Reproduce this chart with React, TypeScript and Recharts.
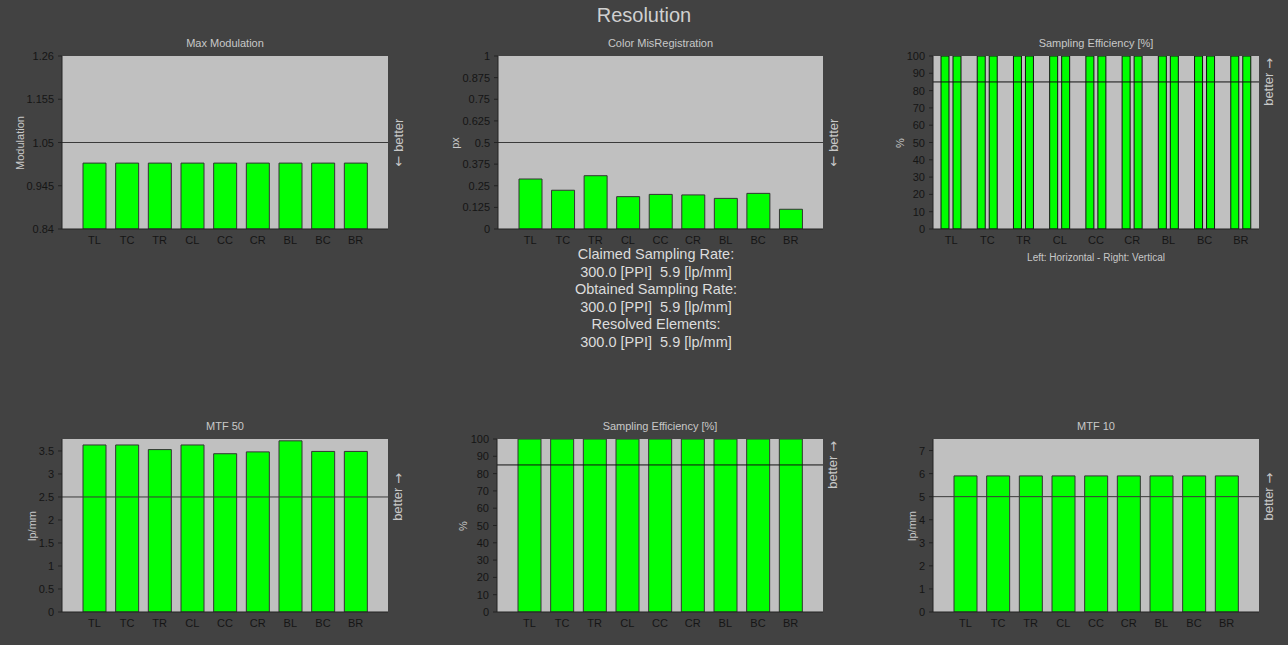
import React from 'react'
import { BarChart, Bar, XAxis, YAxis, CartesianGrid, ReferenceLine } from 'recharts'

const categories = ['TL', 'TC', 'TR', 'CL', 'CC', 'CR', 'BL', 'BC', 'BR']

const maxModulation = [1.0, 1.0, 1.0, 1.0, 1.0, 1.0, 1.0, 1.0, 1.0]
const colorMisreg = [0.289, 0.224, 0.308, 0.187, 0.2, 0.197, 0.177, 0.206, 0.114]
const samplingHorizontal = [100, 100, 100, 100, 100, 100, 100, 100, 100]
const samplingVertical = [100, 100, 100, 100, 100, 100, 100, 100, 100]
const samplingEff = [100, 100, 100, 100, 100, 100, 100, 100, 100]
const mtf50 = [3.63, 3.63, 3.53, 3.63, 3.44, 3.48, 3.72, 3.49, 3.49]
const mtf10 = [5.9, 5.9, 5.9, 5.9, 5.9, 5.9, 5.9, 5.9, 5.9]

const modTicks = [0.84, 0.945, 1.05, 1.155, 1.26]
const misregTicks = [0, 0.125, 0.25, 0.375, 0.5, 0.625, 0.75, 0.875, 1]
const pctTicks = [0, 10, 20, 30, 40, 50, 60, 70, 80, 90, 100]
const mtf50Ticks = [0, 0.5, 1, 1.5, 2, 2.5, 3, 3.5]
const mtf10Ticks = [0, 1, 2, 3, 4, 5, 6, 7]

const infoLines = [
  'Claimed Sampling Rate:',
  '300.0 [PPI]  5.9 [lp/mm]',
  'Obtained Sampling Rate:',
  '300.0 [PPI]  5.9 [lp/mm]',
  'Resolved Elements:',
  '300.0 [PPI]  5.9 [lp/mm]',
]

const FONT = '"Liberation Sans", Arial, sans-serif'
const BG = '#424242'
const LIGHT = '#c8c8c8'
const TICK = '#151515'

function rows(series: Record<string, number[]>) {
  return categories.map((name, i) => {
    const r: Record<string, string | number> = { name }
    for (const k of Object.keys(series)) r[k] = series[k][i]
    return r
  })
}

const yTick = (props: any) => (
  <text
    x={props.x - 2}
    y={props.y}
    textAnchor="end"
    dominantBaseline="central"
    fill={TICK}
    fontSize={11}
    fontFamily={FONT}
  >
    {props.payload.value}
  </text>
)

const xTick = (props: any) => (
  <text
    x={props.x}
    y={props.y + 5}
    textAnchor="middle"
    dominantBaseline="central"
    fill={TICK}
    fontSize={11}
    fontFamily={FONT}
  >
    {props.payload.value}
  </text>
)

interface PanelProps {
  title: string
  yLabel: string
  x: number
  y: number
  w: number
  h: number
  data: Record<string, string | number>[]
  keys: string[]
  domain: [number, number]
  ticks: number[]
  refValue: number
  better: 'up' | 'down'
  labelX: number
  barSize: number
  pad: number
  barGap?: number
  refColor?: string
  barStroke?: string
}

function Panel(p: PanelProps) {
  const yw = 60
  const mt = 20
  const xh = 25
  const refColor = p.refColor || '#3a3a3a'
  const arrow = (ch: string) => (
    <tspan fontFamily='"DejaVu Sans", sans-serif' fontSize={13}>
      {ch}
    </tspan>
  )
  const betterLabel = (props: any) => {
    const vb = props.viewBox
    const tx = vb.x + vb.width + 10
    const ty = vb.y
    return (
      <text
        x={tx}
        y={ty}
        transform={`rotate(-90 ${tx} ${ty})`}
        textAnchor="middle"
        dominantBaseline="central"
        fill={LIGHT}
        fontSize={13}
        fontFamily={FONT}
      >
        {p.better === 'up' ? (
          <>
            better {arrow('\u2192')}
          </>
        ) : (
          <>
            {arrow('\u2190')} better
          </>
        )}
      </text>
    )
  }
  return (
    <>
      <div
        style={{
          position: 'absolute',
          left: p.x,
          top: p.y - 20,
          width: p.w,
          textAlign: 'center',
          color: LIGHT,
          fontSize: 11,
          fontFamily: FONT,
          lineHeight: '14px',
        }}
      >
        {p.title}
      </div>
      <div
        style={{
          position: 'absolute',
          left: p.labelX - 50,
          top: p.y + p.h / 2 - 7,
          width: 100,
          textAlign: 'center',
          color: LIGHT,
          fontSize: 11,
          fontFamily: FONT,
          lineHeight: '14px',
          transform: 'rotate(-90deg)',
        }}
      >
        {p.yLabel}
      </div>
      <div style={{ position: 'absolute', left: p.x - yw, top: p.y - mt }}>
        <BarChart
          width={p.w + yw + 40}
          height={p.h + mt + xh}
          data={p.data}
          margin={{ top: mt, right: 40, bottom: 0, left: 0 }}
          barGap={p.barGap ?? 4}
          barCategoryGap={0}
        >
          <CartesianGrid horizontal={false} vertical={false} fill="#c0c0c0" />
          <XAxis
            dataKey="name"
            height={xh}
            padding={{ left: p.pad, right: p.pad }}
            tickLine={false}
            tickSize={4}
            axisLine={{ stroke: '#222' }}
            tick={xTick}
            interval={0}
          />
          <XAxis
            xAxisId="top"
            dataKey="name"
            orientation="top"
            height={0}
            tick={false}
            tickLine={false}
            axisLine={{ stroke: '#9a9a9a' }}
          />
          <YAxis
            width={yw}
            domain={p.domain}
            ticks={p.ticks}
            type="number"
            interval={0}
            allowDataOverflow
            tickSize={4}
            tickLine={{ stroke: '#222' }}
            axisLine={{ stroke: '#222' }}
            tick={yTick}
          />
          <YAxis
            yAxisId="right"
            orientation="right"
            width={0}
            domain={p.domain}
            tick={false}
            tickLine={false}
            axisLine={{ stroke: '#9a9a9a' }}
          />
          {p.keys.map((k) => (
            <Bar
              key={k}
              dataKey={k}
              fill="#00ff00"
              stroke={p.barStroke || '#333'}
              strokeWidth={1}
              barSize={p.barSize}
              isAnimationActive={false}
            />
          ))}
          <ReferenceLine y={p.refValue} stroke={refColor} strokeWidth={1} label={betterLabel} />
        </BarChart>
      </div>
    </>
  )
}

export default function App() {
  return (
    <div
      style={{
        position: 'relative',
        width: 1288,
        height: 645,
        background: BG,
        overflow: 'hidden',
        fontFamily: FONT,
      }}
    >
      <style>{'body{margin:0}'}</style>
      <div
        style={{
          position: 'absolute',
          left: 0,
          top: 3,
          width: 1288,
          textAlign: 'center',
          color: '#d0d0d0',
          fontSize: 20,
          lineHeight: '24px',
        }}
      >
        Resolution
      </div>

      <Panel
        title="Max Modulation"
        yLabel="Modulation"
        x={62}
        y={56}
        w={326}
        h={173}
        data={rows({ v: maxModulation })}
        keys={['v']}
        domain={[0.84, 1.26]}
        ticks={modTicks}
        refValue={1.05}
        better="down"
        labelX={20}
        barSize={23}
        pad={16}
      />
      <Panel
        title="Color MisRegistration"
        yLabel="px"
        x={498}
        y={56}
        w={325}
        h={173}
        data={rows({ v: colorMisreg })}
        keys={['v']}
        domain={[0, 1]}
        ticks={misregTicks}
        refValue={0.5}
        better="down"
        labelX={455}
        barSize={23}
        pad={16}
      />
      <Panel
        title="Sampling Efficiency [%]"
        yLabel="%"
        x={933}
        y={56}
        w={326}
        h={173}
        data={rows({ h: samplingHorizontal, v: samplingVertical })}
        keys={['h', 'v']}
        domain={[0, 100]}
        ticks={pctTicks}
        refValue={85}
        better="up"
        labelX={900}
        barSize={8}
        barGap={4}
        pad={0}
        refColor="#111"
        barStroke="#111"
      />
      <div
        style={{
          position: 'absolute',
          left: 933,
          top: 252,
          width: 326,
          textAlign: 'center',
          color: LIGHT,
          fontSize: 10,
          lineHeight: '12px',
        }}
      >
        Left: Horizontal - Right: Vertical
      </div>

      <div
        style={{
          position: 'absolute',
          left: 498,
          top: 246,
          width: 316,
          textAlign: 'center',
          color: '#dcdcdc',
          fontSize: 14.5,
          lineHeight: '17.6px',
          whiteSpace: 'pre',
        }}
      >
        {infoLines.map((l, i) => (
          <div key={i}>{l}</div>
        ))}
      </div>

      <Panel
        title="MTF 50"
        yLabel="lp/mm"
        x={62}
        y={439}
        w={326}
        h={173}
        data={rows({ v: mtf50 })}
        keys={['v']}
        domain={[0, 3.76]}
        ticks={mtf50Ticks}
        refValue={2.5}
        better="up"
        labelX={32}
        barSize={23}
        pad={16}
      />
      <Panel
        title="Sampling Efficiency [%]"
        yLabel="%"
        x={497}
        y={439}
        w={326}
        h={173}
        data={rows({ v: samplingEff })}
        keys={['v']}
        domain={[0, 100]}
        ticks={pctTicks}
        refValue={85}
        better="up"
        labelX={463}
        barSize={23}
        pad={16}
        refColor="#111"
      />
      <Panel
        title="MTF 10"
        yLabel="lp/mm"
        x={933}
        y={439}
        w={326}
        h={173}
        data={rows({ v: mtf10 })}
        keys={['v']}
        domain={[0, 7.5]}
        ticks={mtf10Ticks}
        refValue={5}
        better="up"
        labelX={912}
        barSize={23}
        pad={16}
      />
    </div>
  )
}
